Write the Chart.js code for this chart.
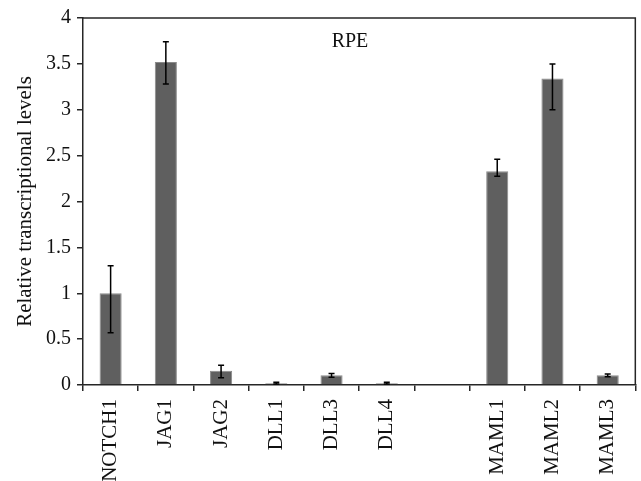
<!DOCTYPE html>
<html>
<head>
<meta charset="utf-8">
<script src="https://cdn.jsdelivr.net/npm/chart.js@4/dist/chart.umd.min.js"></script>
<style>
  html, body { margin: 0; padding: 0; background: #fff; }
  #wrap { width: 641px; height: 481px; }
</style>
</head>
<body>
<div id="wrap"><canvas id="chart" width="641" height="481"></canvas></div>
<script>
// RPE transcript levels
const genes = ['NOTCH1', 'JAG1', 'JAG2', 'DLL1', 'DLL3', 'DLL4', '', 'MAML1', 'MAML2', 'MAML3'];
const levels = [1.0, 3.52, 0.155, 0.02, 0.105, 0.02, null, 2.33, 3.34, 0.105];
const errPlus = [0.30, 0.22, 0.06, 0.01, 0.02, 0.01, null, 0.13, 0.16, 0.015];
const errMinus = [0.43, 0.24, 0.075, 0.01, 0.02, 0.01, null, 0.055, 0.34, 0.015];
const yTicks = [0, 0.5, 1, 1.5, 2, 2.5, 3, 3.5, 4];

const serif = "'Liberation Serif', 'Times New Roman', serif";
const axisColor = '#262626';

// error bars, drawn through the chart's own scales
const errorBars = {
  id: 'errorBars',
  afterDatasetsDraw(chart) {
    const ctx = chart.ctx;
    const meta = chart.getDatasetMeta(0);
    const y = chart.scales.y;
    ctx.save();
    ctx.strokeStyle = '#000';
    ctx.lineWidth = 1.5;
    meta.data.forEach((bar, i) => {
      if (levels[i] == null) return;
      const x = bar.x;
      const top = y.getPixelForValue(levels[i] + errPlus[i]);
      const bot = y.getPixelForValue(levels[i] - errMinus[i]);
      ctx.beginPath();
      ctx.moveTo(x, top); ctx.lineTo(x, bot);
      ctx.moveTo(x - 3, top); ctx.lineTo(x + 3, top);
      ctx.moveTo(x - 3, bot); ctx.lineTo(x + 3, bot);
      ctx.stroke();
    });
    ctx.restore();
  }
};

// box around the plot and the RPE label
const frame = {
  id: 'frame',
  afterDraw(chart) {
    const { ctx, chartArea: a } = chart;
    ctx.save();
    ctx.strokeStyle = axisColor;
    ctx.lineWidth = 1.5;
    ctx.beginPath();
    ctx.moveTo(a.left, a.top); ctx.lineTo(a.right, a.top); ctx.lineTo(a.right, a.bottom);
    ctx.stroke();
    ctx.fillStyle = '#111';
    ctx.font = '20px ' + serif;
    ctx.textAlign = 'center';
    ctx.textBaseline = 'middle';
    ctx.fillText('RPE', 350, 42);
    ctx.restore();
  }
};

new Chart(document.getElementById('chart'), {
  type: 'bar',
  data: {
    labels: genes,
    datasets: [{
      data: levels,
      backgroundColor: '#5f5f5f',
      borderColor: '#8a8a8a',
      borderWidth: 1,
      barPercentage: 0.4,
      categoryPercentage: 1.0
    }]
  },
  options: {
    responsive: false,
    animation: false,
    layout: { padding: { top: 15, right: 2, left: 0, bottom: 0 } },
    plugins: {
      legend: { display: false },
      tooltip: { enabled: false }
    },
    scales: {
      x: {
        afterFit(scale) { scale.height = 96; },
        grid: {
          offset: true,
          drawOnChartArea: false,
          tickLength: 6,
          tickColor: axisColor,
          lineWidth: 1.5
        },
        border: { color: axisColor, width: 1.5 },
        ticks: {
          autoSkip: false,
          maxRotation: 90,
          minRotation: 90,
          padding: 8,
          color: '#111',
          font: { family: serif, size: 21 }
        }
      },
      y: {
        min: 0,
        max: 4,
        afterFit(scale) { scale.width = 83; },
        afterBuildTicks(scale) { scale.ticks = yTicks.map(v => ({ value: v })); },
        grid: {
          drawOnChartArea: false,
          tickLength: 6,
          tickColor: axisColor,
          lineWidth: 1.5
        },
        border: { color: axisColor, width: 1.5 },
        ticks: {
          padding: 6,
          color: '#111',
          font: { family: serif, size: 20 },
          callback: v => String(v)
        },
        title: {
          display: true,
          text: 'Relative transcriptional levels',
          color: '#111',
          font: { family: serif, size: 21 },
          padding: { top: 13, bottom: 0 }
        }
      }
    }
  },
  plugins: [errorBars, frame]
});
</script>
</body>
</html>
